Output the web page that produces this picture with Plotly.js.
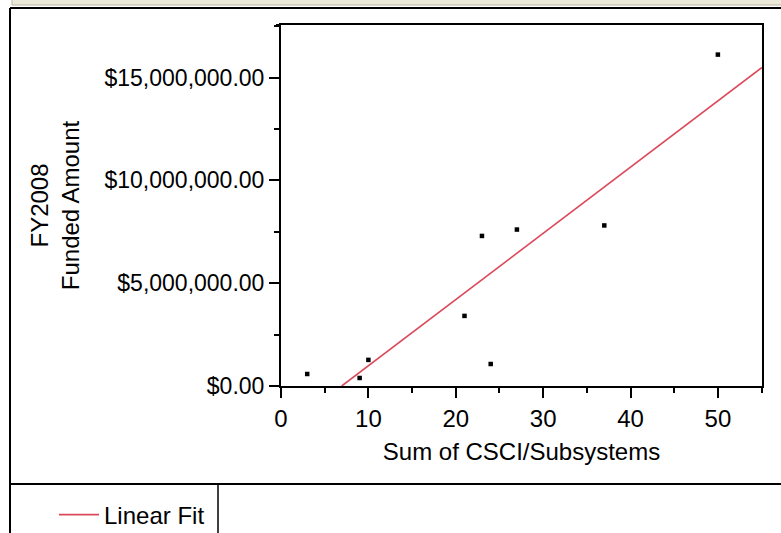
<!DOCTYPE html>
<html>
<head>
<meta charset="utf-8">
<script src="https://cdn.plot.ly/plotly-3.0.1.min.js"></script>
<style>
  html, body { margin: 0; padding: 0; background: #ffffff; }
  #chart { width: 781px; height: 533px; }
</style>
</head>
<body>
<div id="chart"></div>
<script>
// Data
const csciSum = [3, 9, 10, 21, 23, 24, 27, 37, 50];
const fundedAmount = [584000, 390000, 1270000, 3410000, 7300000, 1070000, 7610000, 7810000, 16120000];
const fitLabel = ["Linear Fit"];
const xTitle = "Sum of CSCI/Subsystems";
const yTitleLines = ["FY2008", "Funded Amount"];

// Ordinary least-squares fit of the data
const n = csciSum.length;
const mx = csciSum.reduce((a, b) => a + b, 0) / n;
const my = fundedAmount.reduce((a, b) => a + b, 0) / n;
let sxy = 0, sxx = 0;
for (let i = 0; i < n; i++) { sxy += (csciSum[i] - mx) * (fundedAmount[i] - my); sxx += (csciSum[i] - mx) ** 2; }
const slope = sxy / sxx;
const intercept = my - slope * mx;
const xMax = 55.05;
const x0 = -intercept / slope;
const fitX = [x0, xMax];
const fitY = fitX.map(v => intercept + slope * v);

// Geometry helpers (plot area pixels)
const W = 781, H = 533;
const L = 281, R = 762, T = 25, B = 386;
const px = x => (x - L) / (R - L);
const py = y => (B - y) / (B - T);

const font = "Liberation Sans, Arial, sans-serif";
const FS = 24;

const traces = [
  {
    x: csciSum, y: fundedAmount, type: 'scatter', mode: 'markers',
    marker: { symbol: 'square', size: 4.5, color: '#000000' },
    showlegend: false, hoverinfo: 'x+y'
  },
  {
    x: fitX, y: fitY, type: 'scatter', mode: 'lines',
    line: { color: '#db4a5b', width: 1.6 },
    name: fitLabel[0], showlegend: true
  }
];

const shapes = [
  // beige title strip
  { type: 'rect', xref: 'paper', yref: 'paper', x0: px(12), x1: px(W + 5), y0: py(5), y1: py(-5),
    fillcolor: '#ece9d8', line: { color: '#b9b5a0', width: 1 }, layer: 'below' },
  // outer frame
  { type: 'line', xref: 'paper', yref: 'paper', x0: px(10), x1: px(W), y0: py(8), y1: py(8), line: { color: '#000', width: 2 } },
  { type: 'line', xref: 'paper', yref: 'paper', x0: px(10), x1: px(10), y0: py(8), y1: py(H + 2), line: { color: '#000', width: 2 } },
  // legend separator
  { type: 'line', xref: 'paper', yref: 'paper', x0: px(10), x1: px(W), y0: py(484), y1: py(484), line: { color: '#000', width: 2 } },
  { type: 'line', xref: 'paper', yref: 'paper', x0: px(218), x1: px(218), y0: py(484), y1: py(H + 2), line: { color: '#000', width: 1.5 } },
  // small extension of top frame to the left
  { type: 'line', xref: 'paper', yref: 'paper', x0: px(276), x1: px(L), y0: py(T), y1: py(T), line: { color: '#000', width: 2 } }
];

const layout = {
  width: W, height: H,
  margin: { l: L, r: W - R, t: T, b: H - B, pad: 0, autoexpand: false },
  paper_bgcolor: '#ffffff', plot_bgcolor: '#ffffff',
  font: { family: font, size: FS, color: '#000000' },
  showlegend: true,
  legend: {
    x: px(54), y: py(515), xanchor: 'left', yanchor: 'middle',
    font: { family: font, size: FS, color: '#000' }, bgcolor: 'rgba(0,0,0,0)', itemwidth: 40
  },
  xaxis: {
    range: [0, xMax], dtick: 10, tick0: 0,
    showgrid: false, zeroline: false,
    showline: true, linecolor: '#000', linewidth: 2, mirror: true,
    ticks: 'outside', ticklen: 10, tickwidth: 2, tickcolor: '#000',
    minor: { dtick: 5, ticks: 'outside', ticklen: 5, tickwidth: 2, tickcolor: '#000', showgrid: false },
    tickfont: { family: font, size: FS, color: '#000' },
    title: { text: xTitle, font: { family: font, size: FS, color: '#000' }, standoff: 12 }
  },
  yaxis: {
    range: [0, 17560000], dtick: 5000000, tick0: 0,
    tickprefix: '$', tickformat: ',.2f',
    showgrid: false, zeroline: false,
    showline: true, linecolor: '#000', linewidth: 2, mirror: true,
    ticks: 'outside', ticklen: 10, tickwidth: 2, tickcolor: '#000',
    minor: { dtick: 2500000, ticks: 'outside', ticklen: 5, tickwidth: 2, tickcolor: '#000', showgrid: false },
    tickfont: { family: font, size: 23, color: '#000' },
    title: { text: yTitleLines.join('<br>'), font: { family: font, size: FS, color: '#000' }, standoff: 18 }
  },
  shapes: shapes
};

Plotly.newPlot('chart', traces, layout, { displayModeBar: false, staticPlot: true });
</script>
</body>
</html>
